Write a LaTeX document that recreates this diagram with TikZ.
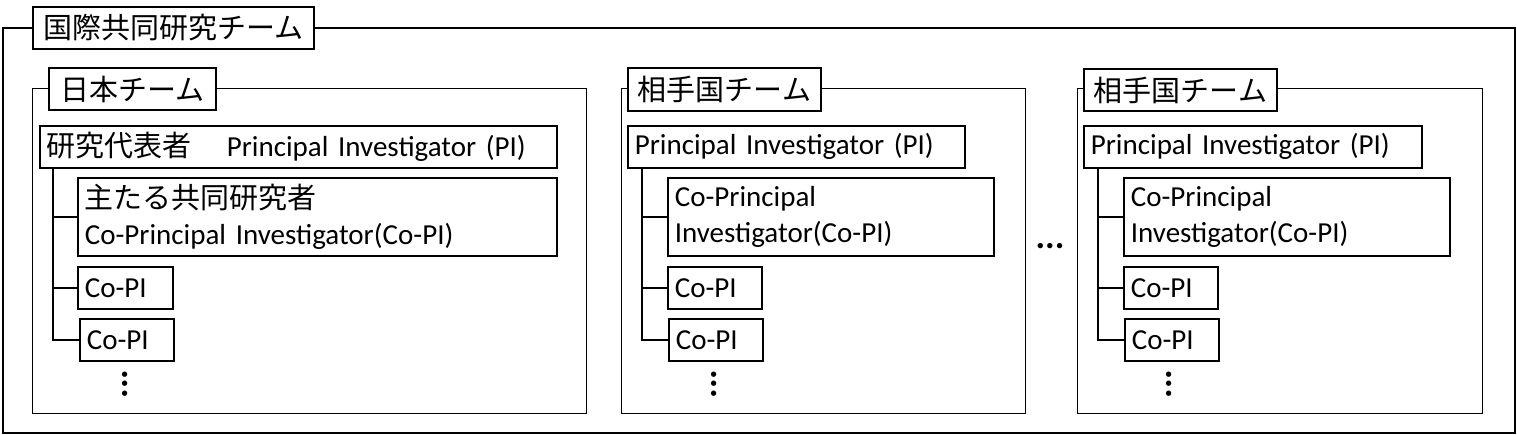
\documentclass[tikz,border=0pt]{standalone}
\usepackage{fontspec}
\setmainfont{Carlito}
\newfontfamily\jp{Noto Sans CJK JP}
\tikzset{
  every node/.style={font=\fontsize{29}{36}\selectfont},
  outerbox/.style={draw, line width=2.2pt},
  teambox/.style={draw, line width=1.4pt, anchor=north west, inner sep=0pt},
  tagbox/.style={draw, line width=2pt, fill=white, anchor=north west, inner xsep=0pt, inner ysep=0pt, align=center},
  membox/.style={draw, line width=1.7pt, fill=white, anchor=north west, inner xsep=7pt, inner ysep=0pt, align=left},
  link/.style={line width=1.3pt},
  dotsnode/.style={inner sep=0pt, font=\fontsize{36}{36}\selectfont\bfseries}
}
\begin{document}
\begin{tikzpicture}[x=1pt,y=-1pt]
\useasboundingbox (0,0) rectangle (1517,434);
% outer frame
\node[teambox, outerbox, minimum width=1512pt, minimum height=405pt] (outer) at (2,27) {};
\node[tagbox, minimum width=281pt, minimum height=42pt] (title) at (32,6) {\jp 国際共同研究チーム};

% ---- Japan team ----
\node[teambox, minimum width=554pt, minimum height=325pt] (jteam) at (32,88) {};
\node[tagbox, minimum width=167pt, minimum height=42pt] (jtag) at (48,67) {\jp 日本チーム};
\node[membox, text width=503pt, minimum height=42pt] (jpi) at (39,125) {{\jp 研究代表者}\hspace{35pt}Principal Investigator (PI)};
\node[membox, text width=465pt, minimum height=78pt] (jc0) at (77,177) {{\jp 主たる共同研究者}\\Co-Principal Investigator(Co-PI)};
\node[membox, text width=81pt, minimum height=42pt] (jc1) at (77,266) {Co-PI};
\node[membox, text width=80pt, minimum height=42pt] (jc2) at (79,318) {Co-PI};
\node[dotsnode, rotate=90] (jdots) at (125,384) {...};
\coordinate (jroot) at ([xshift=14pt]jpi.south west);
\draw[link] (jroot) |- (jc0.west);
\draw[link] (jroot) |- (jc1.west);
\draw[link] (jroot) |- (jc2.west);

% ---- partner team 1 ----
\node[teambox, minimum width=404pt, minimum height=325pt] (mteam) at (621,88) {};
\node[tagbox, minimum width=193pt, minimum height=43pt] (mtag) at (627,67) {\jp 相手国チーム};
\node[membox, text width=323pt, minimum height=42pt] (mpi) at (627,125) {Principal Investigator (PI)};
\node[membox, text width=312pt, minimum height=78pt] (mc0) at (667,177) {Co-Principal\\Investigator(Co-PI)};
\node[membox, text width=80pt, minimum height=42pt] (mc1) at (667,266) {Co-PI};
\node[membox, text width=80pt, minimum height=42pt] (mc2) at (668,318) {Co-PI};
\node[dotsnode, rotate=90] (mdots) at (714,384) {...};
\coordinate (mroot) at ([xshift=15pt]mpi.south west);
\draw[link] (mroot) |- (mc0.west);
\draw[link] (mroot) |- (mc1.west);
\draw[link] (mroot) |- (mc2.west);

% ellipsis between teams
\node[dotsnode] (between) at (1050,246) {...};

% ---- partner team 2 ----
\node[teambox, minimum width=405pt, minimum height=325pt] (rteam) at (1077,88) {};
\node[tagbox, minimum width=193pt, minimum height=42pt] (rtag) at (1083,68) {\jp 相手国チーム};
\node[membox, text width=324pt, minimum height=42pt] (rpi) at (1083,125) {Principal Investigator (PI)};
\node[membox, text width=312pt, minimum height=78pt] (rc0) at (1123,177) {Co-Principal\\Investigator(Co-PI)};
\node[membox, text width=80pt, minimum height=42pt] (rc1) at (1123,266) {Co-PI};
\node[membox, text width=80pt, minimum height=42pt] (rc2) at (1124,318) {Co-PI};
\node[dotsnode, rotate=90] (rdots) at (1169,384) {...};
\coordinate (rroot) at ([xshift=15pt]rpi.south west);
\draw[link] (rroot) |- (rc0.west);
\draw[link] (rroot) |- (rc1.west);
\draw[link] (rroot) |- (rc2.west);
\end{tikzpicture}
\end{document}
